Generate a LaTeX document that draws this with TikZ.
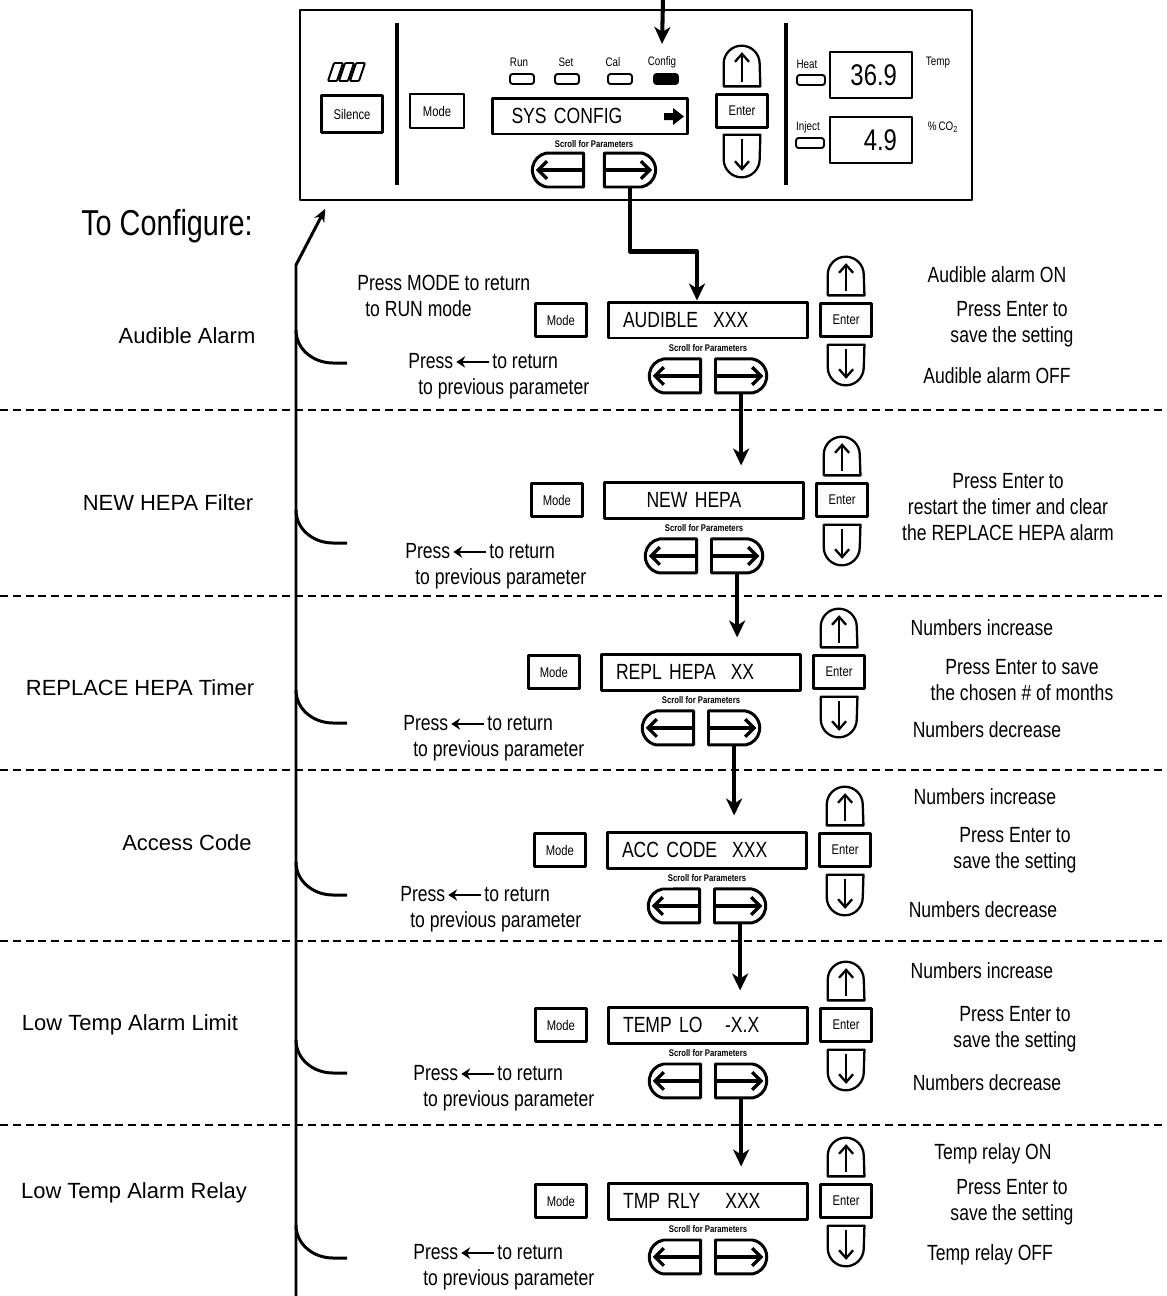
\documentclass[tikz,border=0pt]{standalone}
\usepackage{fontspec}
\setmainfont{Liberation Sans}
\newfontfamily\narrowfont[FakeStretch=0.8]{Liberation Sans}
\usetikzlibrary{%
  arrows.meta,%
  shapes.misc,% wg. rounded rectangle
  positioning% wg. " of "
}
\newcommand{\backkey}{\tikz[baseline=-0.55ex]\draw[line width=1.5pt,-{Stealth[length=5pt,width=6.5pt]}] (0.66cm,0pt) -- (0pt,0pt);}

\begin{document}
\begin{tikzpicture}
[x=0.02cm, y=-0.02cm, line join=round,
panelbox/.style={rectangle, draw, line width=0.9pt, minimum width=13.44cm, minimum height=3.8cm},
key/.style={rectangle, draw, line width=1.3pt, minimum width=1.02cm, minimum height=0.66cm, inner sep=0pt, font=\narrowfont\fontsize{8}{9}\selectfont},
lcd/.style={rectangle, draw, line width=1.7pt, minimum width=4cm, minimum height=0.72cm, inner xsep=0.3cm, text width=3.4cm, align=left, font=\narrowfont\fontsize{12.5}{14}\selectfont},
arrowkey/.style={rectangle, minimum width=0.72cm, minimum height=0.76cm, inner sep=0pt},
scrollL/.style={rounded rectangle, rounded rectangle east arc=none, rounded rectangle arc length=160, draw, line width=1.7pt, minimum width=1.26cm, minimum height=0.68cm},
scrollR/.style={rounded rectangle, rounded rectangle west arc=none, rounded rectangle arc length=160, draw, line width=1.7pt, minimum width=1.26cm, minimum height=0.68cm},
led/.style={rectangle, draw, rounded corners=1.5pt, line width=1.1pt, minimum width=0.48cm, minimum height=0.2cm, inner sep=0pt},
readout/.style={rectangle, draw, line width=1.4pt, minimum width=1.64cm, minimum height=0.92cm, inner xsep=0.3cm, text width=1.04cm, align=right, font=\narrowfont\fontsize{17}{18}\selectfont},
keyline/.style={line width=1.3pt},
keyarrow/.style={line width=1.3pt, -{Straight Barb[length=4.5pt,width=8pt]}},
scrollarrow/.style={line width=1.9pt, -{Straight Barb[length=5pt,width=10pt]}},
flow/.style={line width=2.3pt, -{Stealth[length=0.34cm,width=0.32cm,inset=0.1cm]}},
back/.style={line width=1.7pt, -{Stealth[length=0.26cm,width=0.22cm]}},
branch/.style={line width=1.7pt},
divider/.style={line width=2.3pt},
sep/.style={line width=0.8pt, dash pattern=on 4.5pt off 2.8pt},
note/.style={font=\narrowfont\fontsize{12.5}{14.7}\selectfont, inner sep=0pt, align=center},
rowlabel/.style={font=\fontsize{12.5}{15}\selectfont, inner sep=0pt, anchor=base},
lbl/.style={font=\narrowfont\fontsize{7}{8}\selectfont, inner sep=0pt},
tiny/.style={font=\narrowfont\bfseries\fontsize{5.5}{6}\selectfont, inner sep=0pt}]

\useasboundingbox (0,0) rectangle (1167,1296);

% front panel
\node[panelbox] (panel) at (636,105) {};
\foreach \k in {0,1,2}
  \draw[line width=1.1pt, rounded corners=0.6pt] (328+11*\k,81) -- (337+11*\k,81) -- (343+11*\k,63) -- (334+11*\k,63) -- cycle;
\node[key, minimum width=1.22cm, minimum height=0.74cm] (silence) at (352,114) {Silence};
\draw[divider] (397,23) -- (397,185);
\node[key, minimum width=1.08cm, minimum height=0.68cm] (mode0) at (437,111) {Mode};

\node[lbl] (lblrun) at (519,62) {Run};
\node[lbl] (lblset) at (566,62) {Set};
\node[lbl] (lblcal) at (613,62) {Cal};
\node[lbl] (lblcfg) at (662,62) {Config};
\node[led] (ledrun) at (522,79) {};
\node[led] (ledset) at (567,79) {};
\node[led] (ledcal) at (620,79) {};
\node[led, fill=black] (ledcfg) at (666,79) {};

\node[lcd, minimum width=3.9cm, text width=3.3cm] (disp0) at (590,116) {\hspace*{0.08cm}SYS CONFIG};
\fill (664,113) -- (673,113) -- (673,108) -- (684,116.5) -- (673,125) -- (673,120) -- (664,120) -- cycle;
\node[tiny] (scroll0) at (594,144) {Scroll for Parameters};
\node[scrollL] (scl0) at (558,170) {};
\node[scrollR] (scr0) at (630,170) {};

\node[key] (ent0) at (742,111) {Enter};
\node[arrowkey, minimum height=0.8cm, above=0.14cm of ent0] (up0) {};
\node[arrowkey, minimum height=0.84cm, below=0.12cm of ent0] (dn0) {};
\draw[divider] (786,23) -- (786,185);

\node[lbl] (lblheat) at (807,64) {Heat};
\node[led, minimum width=0.56cm] (ledheat) at (811,80) {};
\node[lbl] (lblinj) at (808,127) {Inject};
\node[led, minimum width=0.56cm] (ledinj) at (810,143) {};
\node[readout] (temp) at (871,75) {36.9};
\node[readout] (co2) at (871,140) {4.9};
\node[lbl] (lbltemp) at (938,63) {Temp};
\node[lbl] (lblco2) at (943,127) {\%\,CO\textsubscript{2}};

\coordinate (intop) at (663,0);
\draw[flow] (intop) -- ([yshift=0.24cm]lblcfg.north);

% one keypad per parameter
\foreach \i/\x/\y/\txt in {1/708/320/{AUDIBLE\hspace{0.3cm}XXX}, 2/704/500/{\hspace*{0.55cm}NEW HEPA},
    3/701/672/{REPL HEPA\hspace{0.3cm}XX}, 4/707/850/{ACC CODE\hspace{0.3cm}XXX},
    5/708/1025/{TEMP LO\hspace{0.45cm}-X.X}, 6/708/1201/{TMP RLY\hspace{0.5cm}XXX}}{
  \node[lcd] (disp\i) at (\x,\y) {\txt};
  \node[key, left=0.38cm of disp\i] (mode\i) {Mode};
  \node[key, right=0.2cm of disp\i] (ent\i) {Enter};
  \node[arrowkey, above=0.14cm of ent\i] (up\i) {};
  \node[arrowkey, minimum height=0.8cm, below=0.14cm of ent\i] (dn\i) {};
  \node[tiny, below=0.1cm of disp\i.south] (scroll\i) {Scroll for Parameters};
  \node[scrollL, below left=0.36cm and 0.12cm of disp\i.south] (scl\i) {};
  \node[scrollR, below right=0.36cm and 0.12cm of disp\i.south] (scr\i) {};
}

\foreach \i in {0,...,6}{
  \draw[keyline] (up\i.south west) -- ([yshift=-0.36cm]up\i.north west) arc[start angle=180, end angle=0, radius=0.36cm] -- (up\i.south east) -- cycle;
  \draw[keyarrow] ([yshift=0.09cm]up\i.south) -- ([yshift=-0.13cm]up\i.north);
  \draw[keyline] (dn\i.north west) -- ([yshift=0.36cm]dn\i.south west) arc[start angle=180, end angle=360, radius=0.36cm] -- (dn\i.north east) -- cycle;
  \draw[keyarrow] ([yshift=-0.09cm]dn\i.north) -- ([yshift=0.13cm]dn\i.south);
  \draw[scrollarrow] ([xshift=-0.03cm]scl\i.east) -- ([xshift=0.1cm]scl\i.west);
  \draw[scrollarrow] ([xshift=0.03cm]scr\i.west) -- ([xshift=-0.1cm]scr\i.east);
}

% flow
\draw[flow] (scr0.south) -- ++(0,63) -| ([xshift=-0.22cm]disp1.north);
\foreach \i/\j in {1/2,2/3,3/4,4/5,5/6}
  \draw[flow, shorten >=0.3cm] (scr\i.south) -- (scr\i.south |- disp\j.north);

\foreach \y in {410,596,770,941,1125}
  \draw[sep] (0,\y) -- (1167,\y);

\coordinate (retbot) at (296,1296);
\coordinate (retknee) at (296,265);
\draw[back] (retbot) -- (retknee) -- ([xshift=0.52cm,yshift=-0.16cm]panel.south west);
\foreach \y in {330,510,690,862,1040,1225}
  \draw[branch] (296,\y) to[out=-90,in=180] (333,\y+33) -- (347,\y+33);

% texts
\node[anchor=base, font=\narrowfont\fontsize{20.5}{24}\selectfont, inner sep=0pt] (title) at (167,235) {To Configure:};
\node[rowlabel] (lab1) at (187,343) {Audible Alarm};
\node[rowlabel] (lab2) at (168,510) {NEW HEPA Filter};
\node[rowlabel] (lab3) at (140,695) {REPLACE HEPA Timer};
\node[rowlabel] (lab4) at (187,850) {Access Code};
\node[rowlabel] (lab5) at (130,1030) {Low Temp Alarm Limit};
\node[rowlabel] (lab6) at (134,1198) {Low Temp Alarm Relay};

\node[note, align=left, anchor=west] (runhint) at (357,296) {Press MODE to return\\\hspace*{0.16cm}to RUN mode};
\node[note, align=left, anchor=west] (back1) at (408,376) {Press\hspace{1pt}\backkey\hspace{1pt}to return\\\hspace*{0.2cm}to previous parameter};
\node[note, align=left, anchor=west] (back2) at (405,566) {Press\hspace{1pt}\backkey\hspace{1pt}to return\\\hspace*{0.2cm}to previous parameter};
\node[note, align=left, anchor=west] (back3) at (403,738) {Press\hspace{1pt}\backkey\hspace{1pt}to return\\\hspace*{0.2cm}to previous parameter};
\node[note, align=left, anchor=west] (back4) at (400,909) {Press\hspace{1pt}\backkey\hspace{1pt}to return\\\hspace*{0.2cm}to previous parameter};
\node[note, align=left, anchor=west] (back5) at (413,1088) {Press\hspace{1pt}\backkey\hspace{1pt}to return\\\hspace*{0.2cm}to previous parameter};
\node[note, align=left, anchor=west] (back6) at (413,1267) {Press\hspace{1pt}\backkey\hspace{1pt}to return\\\hspace*{0.2cm}to previous parameter};

\node[note] (on1) at (997,275) {Audible alarm ON};
\node[note] (save1) at (1012,324) {Press Enter to\\save the setting};
\node[note] (off1) at (997,376) {Audible alarm OFF};
\node[note] (save2) at (1008,507) {Press Enter to\\restart the timer and clear\\the REPLACE HEPA alarm};
\node[note] (inc3) at (982,628) {Numbers increase};
\node[note] (save3) at (1022,680) {Press Enter to save\\the chosen \# of months};
\node[note] (dec3) at (987,730) {Numbers decrease};
\node[note] (inc4) at (985,797) {Numbers increase};
\node[note] (save4) at (1015,850) {Press Enter to\\save the setting};
\node[note] (dec4) at (983,910) {Numbers decrease};
\node[note] (inc5) at (982,971) {Numbers increase};
\node[note] (save5) at (1015,1029) {Press Enter to\\save the setting};
\node[note] (dec5) at (987,1083) {Numbers decrease};
\node[note] (on6) at (993,1154) {Temp relay ON};
\node[note] (save6) at (1012,1202) {Press Enter to\\save the setting};
\node[note] (off6) at (990,1255) {Temp relay OFF};
\end{tikzpicture}
\end{document}
